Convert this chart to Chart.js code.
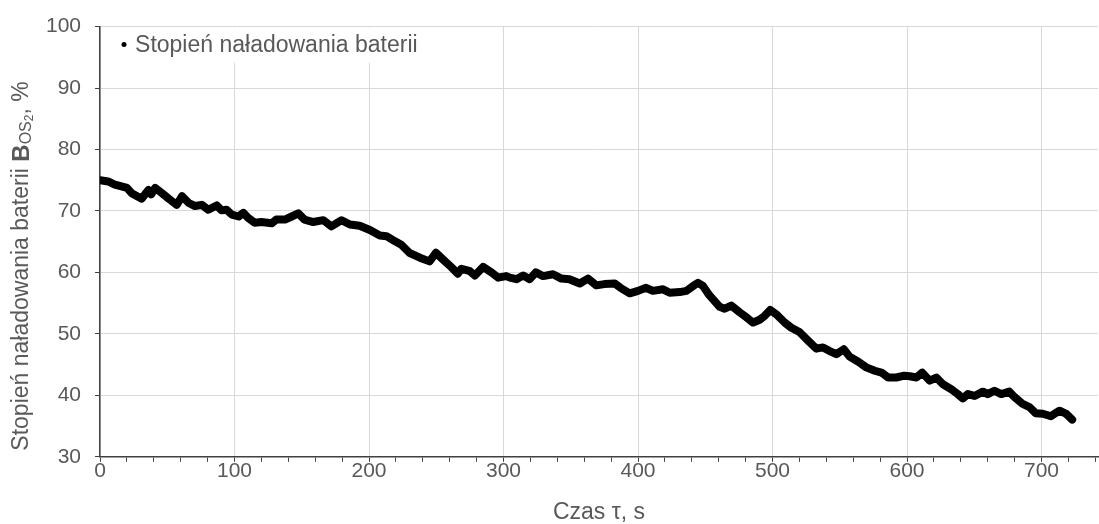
<!DOCTYPE html>
<html>
<head>
<meta charset="utf-8">
<script src="https://cdn.jsdelivr.net/npm/chart.js@4.4.1/dist/chart.umd.min.js"></script>
<style>
  html, body { margin: 0; padding: 0; background: #fff; }
</style>
</head>
<body>
<canvas id="myChart" width="1099" height="524"></canvas>
<script>
// Battery state of charge over time

const seriesLabel = "Stopień naładowania baterii";

const timeValues = [
  0, 6, 11, 16, 20, 23.5, 31, 33.4, 36, 38, 41, 46, 51, 57, 61, 66, 70.6, 75.6, 80.5, 86.7,
  90.4, 94, 98, 103, 106.5, 110, 115, 120, 127.6, 131, 137.5, 142.5, 147.4, 152, 158.5, 166,
  172, 179.6, 185.8, 193, 200.6, 208, 213, 219, 224, 230, 237.8, 245, 249.7, 255, 261, 266,
  268.7, 275, 278.7, 284.8, 291, 296, 302, 304.7, 309.6, 314.6, 319.5, 324, 329.4, 336.8,
  343, 349, 356.7, 362.8, 369, 375, 382.7, 387.6, 393.8, 400, 406, 411, 418.6, 423.6, 431,
  436, 441, 444.6, 448.3, 453, 460.7, 464.4, 469.4, 475.6, 480.6, 485.5, 490.4, 494, 498.3,
  502.7, 509, 514, 520, 526.4, 532.6, 537.5, 542.5, 547.5, 553, 557.3, 563.5, 569.7, 576,
  581, 586, 592, 598, 602, 607, 611.3, 616.8, 621.8, 626.7, 632.9, 637.8, 641.5, 645.3,
  650.2, 656.4, 660, 665, 670, 676, 680, 686, 691, 695.6, 701, 707, 713.4, 718.4, 722.8
];

const chargeValues = [
  75.0, 74.8, 74.3, 74.0, 73.75, 72.9, 72.0, 72.7, 73.4, 72.7, 73.75, 72.9, 72.0, 71.0, 72.4, 71.3, 70.8, 71.0, 70.2, 70.9,
  70.1, 70.2, 69.4, 69.1, 69.7, 68.9, 68.1, 68.2, 68.0, 68.6, 68.6, 69.1, 69.6, 68.6, 68.2, 68.5,
  67.5, 68.5, 67.8, 67.6, 66.9, 66.0, 65.9, 65.1, 64.5, 63.2, 62.4, 61.8, 63.2, 62.1, 60.9, 59.8,
  60.6, 60.2, 59.5, 60.9, 60.0, 59.15, 59.4, 59.15, 58.9, 59.5, 58.9, 60.0, 59.4, 59.7,
  59.0, 58.9, 58.2, 59.0, 57.9, 58.1, 58.2, 57.4, 56.6, 57.0, 57.5, 57.0, 57.25, 56.7, 56.8,
  57.0, 57.8, 58.3, 57.8, 56.3, 54.4, 54.1, 54.6, 53.5, 52.7, 51.85, 52.3, 52.9, 53.9,
  53.2, 51.85, 51.0, 50.3, 48.9, 47.6, 47.8, 47.2, 46.7, 47.5, 46.3, 45.5, 44.55, 44.0,
  43.7, 42.9, 42.9, 43.2, 43.1, 42.9, 43.7, 42.4, 42.9, 41.8, 41.0, 40.2, 39.5, 40.2,
  39.9, 40.6, 40.2, 40.75, 40.2, 40.6, 39.7, 38.6, 38.1, 37.1, 37.0, 36.6, 37.5, 37.0, 36.05
];

const xMajorTicks = [0, 100, 200, 300, 400, 500, 600, 700];
const xAllTicks = [0, 20, 40, 60, 80, 100, 120, 140, 160, 180, 200, 220, 240, 260, 280, 300,
  320, 340, 360, 380, 400, 420, 440, 460, 480, 500, 520, 540, 560, 580, 600, 620, 640, 660,
  680, 700, 720, 740];
const yTicks = [30, 40, 50, 60, 70, 80, 90, 100];

const FONT = "'Liberation Sans', Arial, sans-serif";
const TEXT_COLOR = "#595959";
const AXIS_COLOR = "#404040";
const GRID_COLOR = "#d9d9d9";

// legend drawn inside the plot on a white patch
const legendPlugin = {
  id: "insideLegend",
  beforeDatasetsDraw(chart) {
    const { ctx, chartArea } = chart;
    ctx.save();
    ctx.fillStyle = "#ffffff";
    ctx.fillRect(chartArea.left + 1, chartArea.top + 1, 340, 35);
    ctx.fillStyle = "#000000";
    ctx.beginPath();
    ctx.arc(chartArea.left + 24, chartArea.top + 18, 2.5, 0, Math.PI * 2);
    ctx.fill();
    ctx.fillStyle = TEXT_COLOR;
    ctx.font = "23px " + FONT;
    ctx.textBaseline = "middle";
    ctx.fillText(chart.data.datasets[0].label, chartArea.left + 35, chartArea.top + 19);
    ctx.restore();
  },
};

// y title with bold B and subscripts
const yTitlePlugin = {
  id: "yTitle",
  afterDraw(chart) {
    const { ctx } = chart;
    const parts = [
      { text: "Stopień naładowania baterii ", font: "23px " + FONT, dy: 0 },
      { text: "B", font: "bold 24px " + FONT, dy: 0 },
      { text: "OS", font: "16px " + FONT, dy: 5 },
      { text: "2", font: "12px " + FONT, dy: 8 },
      { text: ", %", font: "23px " + FONT, dy: 0 },
    ];
    ctx.save();
    let total = 0;
    parts.forEach((p) => {
      ctx.font = p.font;
      p.w = ctx.measureText(p.text).width;
      total += p.w;
    });
    ctx.translate(22, 266);
    ctx.rotate(-Math.PI / 2);
    ctx.fillStyle = TEXT_COLOR;
    ctx.textBaseline = "middle";
    let x = -total / 2;
    parts.forEach((p) => {
      ctx.font = p.font;
      ctx.fillText(p.text, x, p.dy);
      x += p.w;
    });
    ctx.restore();
  },
};

const points = timeValues.map((t, i) => ({ x: t, y: chargeValues[i] }));

new Chart(document.getElementById("myChart"), {
  type: "line",
  data: {
    datasets: [
      {
        label: seriesLabel,
        data: points,
        borderColor: "#000000",
        backgroundColor: "#000000",
        borderWidth: 8,
        borderJoinStyle: "round",
        borderCapStyle: "round",
        pointRadius: 0,
        tension: 0,
      },
    ],
  },
  options: {
    responsive: false,
    devicePixelRatio: 1,
    animation: false,
    layout: { padding: { left: 32, right: 1, top: 26, bottom: 0.4 } },
    plugins: {
      legend: { display: false },
      tooltip: { enabled: false },
    },
    scales: {
      x: {
        type: "linear",
        min: 0,
        max: 742,
        afterBuildTicks: (scale) => {
          scale.ticks = xAllTicks.map((v) => ({ value: v }));
        },
        ticks: {
          autoSkip: false,
          maxRotation: 0,
          padding: -3,
          color: TEXT_COLOR,
          font: { family: FONT, size: 21 },
          callback: (v) => (xMajorTicks.includes(v) ? String(v) : ""),
        },
        grid: {
          color: (c) => (c.tick && xMajorTicks.includes(c.tick.value) ? GRID_COLOR : "#ffffff"),
          tickColor: AXIS_COLOR,
          tickLength: 5,
        },
        border: { color: AXIS_COLOR, width: 1.5 },
        title: {
          display: true,
          text: "Czas τ, s",
          color: TEXT_COLOR,
          font: { family: FONT, size: 23 },
          padding: { top: 18, bottom: -3 },
        },
      },
      y: {
        min: 30,
        max: 100,
        afterBuildTicks: (scale) => {
          scale.ticks = yTicks.map((v) => ({ value: v }));
        },
        ticks: {
          padding: 14,
          color: TEXT_COLOR,
          font: { family: FONT, size: 21 },
        },
        grid: { color: GRID_COLOR, tickColor: AXIS_COLOR, tickLength: 5 },
        border: { color: AXIS_COLOR, width: 1.5 },
      },
    },
  },
  plugins: [legendPlugin, yTitlePlugin],
});
</script>
</body>
</html>
